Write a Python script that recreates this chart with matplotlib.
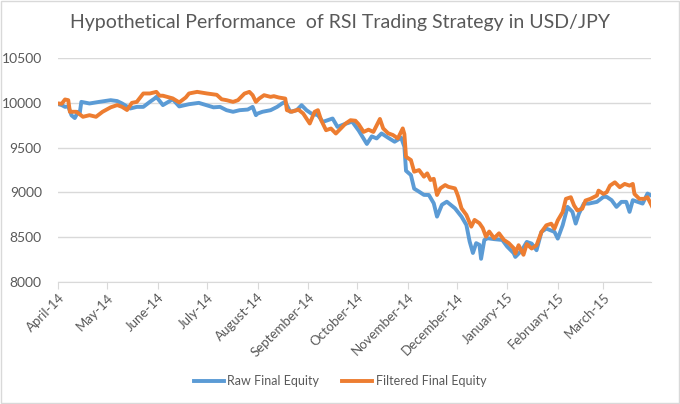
import pandas as pd
import matplotlib
matplotlib.use("Agg")
import matplotlib.pyplot as plt
import matplotlib.dates as mdates
from matplotlib.patches import Rectangle

# Valores (aproximados)
raw_dates = [
    "2014-04-01", "2014-04-03", "2014-04-05", "2014-04-07", "2014-04-09", "2014-04-11",
    "2014-04-13", "2014-04-14", "2014-04-15", "2014-04-20", "2014-04-26", "2014-05-03",
    "2014-05-07", "2014-05-10", "2014-05-15", "2014-05-19", "2014-05-23", "2014-05-27",
    "2014-05-30", "2014-05-31", "2014-06-04", "2014-06-10", "2014-06-14", "2014-06-20",
    "2014-06-26", "2014-07-05", "2014-07-09", "2014-07-13", "2014-07-17", "2014-07-21",
    "2014-07-26", "2014-07-29", "2014-07-31", "2014-08-01", "2014-08-04", "2014-08-09",
    "2014-08-13", "2014-08-16", "2014-08-18", "2014-08-21", "2014-08-25", "2014-08-28",
    "2014-08-31", "2014-09-03", "2014-09-07", "2014-09-10", "2014-09-13", "2014-09-16",
    "2014-09-19", "2014-09-23", "2014-09-28", "2014-10-02", "2014-10-07", "2014-10-10",
    "2014-10-13", "2014-10-16", "2014-10-20", "2014-10-24", "2014-10-28", "2014-10-30",
    "2014-10-31", "2014-11-03", "2014-11-05", "2014-11-08", "2014-11-11", "2014-11-14",
    "2014-11-17", "2014-11-19", "2014-11-22", "2014-11-25", "2014-11-30", "2014-12-04",
    "2014-12-07", "2014-12-09", "2014-12-11", "2014-12-13", "2014-12-15", "2014-12-16",
    "2014-12-18", "2014-12-20", "2014-12-24", "2014-12-29", "2015-01-01", "2015-01-05",
    "2015-01-06", "2015-01-10", "2015-01-13", "2015-01-16", "2015-01-19", "2015-01-22",
    "2015-01-25", "2015-01-30", "2015-02-01", "2015-02-04", "2015-02-07", "2015-02-10",
    "2015-02-12", "2015-02-14", "2015-02-17", "2015-02-20", "2015-02-25", "2015-03-01",
    "2015-03-03", "2015-03-06", "2015-03-09", "2015-03-12", "2015-03-15", "2015-03-17",
    "2015-03-19", "2015-03-22", "2015-03-25", "2015-03-28", "2015-03-30",
]
raw_equity = [
    9985, 9975, 9955, 9960, 9860, 9830,
    9900, 9880, 10011, 9993, 10011, 10030,
    10020, 9993, 9937, 9955, 9955, 10011,
    10050, 10067, 9975, 10040, 9960, 9985,
    10000, 9950, 9955, 9918, 9900, 9918,
    9925, 9955, 9862, 9880, 9900, 9918,
    9955, 9993, 10011, 9900, 9918, 9974,
    9918, 9880, 9862, 9787, 9806, 9825,
    9731, 9760, 9790, 9690, 9540, 9625,
    9602, 9658, 9610, 9565, 9610, 9509,
    9240, 9192, 9040, 9006, 8970, 8969,
    8876, 8727, 8860, 8894, 8820, 8727,
    8634, 8448, 8320, 8430, 8411, 8255,
    8466, 8485, 8475, 8466, 8392, 8318,
    8276, 8351, 8444, 8425, 8351, 8556,
    8593, 8556, 8481, 8630, 8836, 8780,
    8649, 8761, 8873, 8873, 8892, 8948,
    8948, 8911, 8836, 8892, 8892, 8780,
    8911, 8892, 8873, 8985, 8966,
]

filtered_dates = [
    "2014-04-01", "2014-04-03", "2014-04-05", "2014-04-07", "2014-04-08", "2014-04-12",
    "2014-04-16", "2014-04-20", "2014-04-24", "2014-04-28", "2014-05-03", "2014-05-07",
    "2014-05-10", "2014-05-13", "2014-05-16", "2014-05-19", "2014-05-23", "2014-05-27",
    "2014-05-31", "2014-06-02", "2014-06-04", "2014-06-10", "2014-06-14", "2014-06-18",
    "2014-06-20", "2014-06-25", "2014-07-01", "2014-07-07", "2014-07-10", "2014-07-13",
    "2014-07-17", "2014-07-20", "2014-07-24", "2014-07-27", "2014-07-29", "2014-07-31",
    "2014-08-02", "2014-08-05", "2014-08-09", "2014-08-11", "2014-08-14", "2014-08-18",
    "2014-08-19", "2014-08-22", "2014-08-26", "2014-08-29", "2014-09-02", "2014-09-05",
    "2014-09-07", "2014-09-09", "2014-09-12", "2014-09-15", "2014-09-18", "2014-09-21",
    "2014-09-24", "2014-09-27", "2014-09-30", "2014-10-02", "2014-10-05", "2014-10-08",
    "2014-10-11", "2014-10-15", "2014-10-17", "2014-10-20", "2014-10-23", "2014-10-26",
    "2014-10-29", "2014-10-30", "2014-10-31", "2014-11-03", "2014-11-05", "2014-11-08",
    "2014-11-11", "2014-11-13", "2014-11-15", "2014-11-17", "2014-11-19", "2014-11-21",
    "2014-11-24", "2014-11-26", "2014-11-30", "2014-12-01", "2014-12-02", "2014-12-04",
    "2014-12-07", "2014-12-10", "2014-12-12", "2014-12-15", "2014-12-17", "2014-12-19",
    "2014-12-21", "2014-12-24", "2014-12-27", "2014-12-30", "2015-01-02", "2015-01-05",
    "2015-01-06", "2015-01-08", "2015-01-11", "2015-01-13", "2015-01-16", "2015-01-19",
    "2015-01-22", "2015-01-25", "2015-01-28", "2015-01-30", "2015-02-01", "2015-02-04",
    "2015-02-06", "2015-02-09", "2015-02-11", "2015-02-13", "2015-02-16", "2015-02-18",
    "2015-02-21", "2015-02-25", "2015-02-26", "2015-03-01", "2015-03-03", "2015-03-05",
    "2015-03-08", "2015-03-11", "2015-03-14", "2015-03-17", "2015-03-19", "2015-03-20",
    "2015-03-23", "2015-03-26", "2015-03-28", "2015-03-31",
]
filtered_equity = [
    9993, 9990, 10038, 10030, 9900, 9900,
    9844, 9862, 9844, 9900, 9950, 9975,
    9955, 9920, 10000, 10011, 10105, 10105,
    10123, 10080, 10080, 10050, 10005, 10060,
    10105, 10123, 10105, 10090, 10040, 10030,
    10011, 10030, 10104, 10123, 10086, 10011,
    10048, 10086, 10067, 10075, 10060, 10048,
    9918, 9900, 9925, 9880, 9769, 9900,
    9918, 9806, 9694, 9713, 9657, 9713,
    9769, 9806, 9800, 9760, 9675, 9700,
    9675, 9820, 9714, 9660, 9640, 9602,
    9714, 9650, 9397, 9360, 9230, 9248,
    9174, 9211, 9137, 9150, 8969, 9043,
    9080, 9060, 9043, 9000, 8950, 8820,
    8746, 8615, 8690, 8653, 8600, 8503,
    8560, 8485, 8540, 8466, 8430, 8374,
    8314, 8407, 8300, 8420, 8370, 8407,
    8555, 8630, 8648, 8593, 8685, 8778,
    8926, 8944, 8852, 8796, 8815, 8907,
    8926, 8963, 9018, 8981, 9000, 9074,
    9111, 9056, 9093, 9074, 9093, 8981,
    8926, 8926, 8944, 8833,
]

y_ticks = [8000, 8500, 9000, 9500, 10000, 10500]

plt.rcParams["font.family"] = ["Lato", "DejaVu Sans"]
txt = "#595959"

fig = plt.figure(figsize=(6.8, 4.04), dpi=100)
ax = fig.add_axes([0.086, 0.303, 0.871, 0.553])

ax.plot(pd.to_datetime(raw_dates), raw_equity, color="#5B9BD5", lw=2.8,
        label="Raw Final Equity", solid_joinstyle="round")
ax.plot(pd.to_datetime(filtered_dates), filtered_equity, color="#ED7D31", lw=2.8,
        label="Filtered Final Equity", solid_joinstyle="round")

ax.set_ylim(8000, 10500)
ax.set_yticks(y_ticks)
ax.set_xlim(pd.Timestamp("2014-04-01"), pd.Timestamp("2015-03-30"))
ax.xaxis.set_major_locator(mdates.MonthLocator())
ax.xaxis.set_major_formatter(mdates.DateFormatter("%B-%y"))

ax.grid(axis="y", color="#d9d9d9", lw=1)
ax.set_axisbelow(True)
for s in ["top", "right", "left"]:
    ax.spines[s].set_visible(False)
ax.spines["bottom"].set_color("#d9d9d9")
ax.tick_params(axis="y", length=0, labelsize=10, labelcolor=txt, pad=12)
ax.tick_params(axis="x", length=5, color="#d9d9d9", labelsize=9.5, labelcolor=txt, pad=2)
for lbl in ax.get_xticklabels():
    lbl.set_rotation(45)
    lbl.set_ha("right")
    lbl.set_rotation_mode("anchor")

fig.suptitle("Hypothetical Performance  of RSI Trading Strategy in USD/JPY",
             x=0.5, y=0.965, fontsize=14, color=txt, fontweight="normal")

fig.legend(loc="center", bbox_to_anchor=(0.5, 0.057), ncol=2, frameon=False,
           fontsize=9, labelcolor=txt, handlelength=2.4, handletextpad=0.3,
           columnspacing=1.8)

fig.patches.append(Rectangle((0.002, 0.002), 0.996, 0.996, transform=fig.transFigure,
                             fill=False, edgecolor="#d9d9d9", lw=1))

fig.savefig("out.png", dpi=100)
